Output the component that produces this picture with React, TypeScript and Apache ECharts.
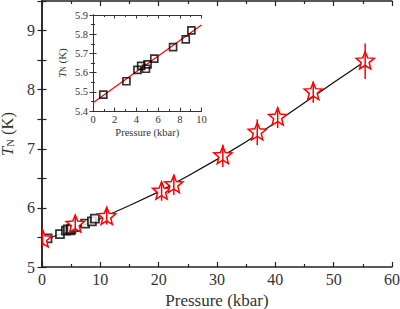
import React, { useEffect, useRef } from 'react';
import * as echarts from 'echarts';

// Black squares (low-pressure data, shown in main plot and inset)
const squareP = [0.95, 3.08, 4.1, 4.44, 4.88, 5.03, 5.65, 7.38, 8.55, 9.07];
const squareT = [5.485, 5.555, 5.614, 5.635, 5.62, 5.643, 5.673, 5.733, 5.773, 5.82];

// Red stars with error bars
const starP = [0.1, 5.7, 11.1, 20.5, 22.6, 31.0, 36.9, 40.4, 46.5, 55.4];
const starT = [5.47, 5.72, 5.85, 6.28, 6.39, 6.88, 7.28, 7.53, 7.96, 8.48];
const starErr = [0.12, 0.13, 0.13, 0.16, 0.17, 0.19, 0.22, 0.18, 0.18, 0.3];

// Black guide line through the main data
const fitP = [0, 5, 10, 15, 20, 25, 30, 35, 40, 45, 50, 55.4];
const fitT = [5.44, 5.63, 5.82, 6.04, 6.27, 6.54, 6.82, 7.12, 7.44, 7.78, 8.12, 8.48];

// Red linear fit in the inset
const insetLineP = [0, 10];
const insetLineT = [5.443, 5.848];

const FONT = '"Liberation Serif", "Times New Roman", serif';
const AX = '#222';

export default function App() {
  const ref = useRef<HTMLDivElement>(null);

  useEffect(() => {
    if (!ref.current) return;
    const chart = echarts.init(ref.current, undefined, { renderer: 'svg' });

    const squares = squareP.map((p, i) => [p, squareT[i]]);
    const stars = starP.map((p, i) => [p, starT[i], starErr[i]]);
    const fit = fitP.map((p, i) => [p, fitT[i]]);
    const insetLine = insetLineP.map((p, i) => [p, insetLineT[i]]);

    const mainAxisLine = { lineStyle: { color: AX, width: 1.5 } };
    const insetAxisLine = { lineStyle: { color: '#333', width: 1 } };

    const yName = (big: number, small: number) => ({
      text: '{i|T}{s|N}{n| (K)}',
      rich: {
        i: { fontFamily: FONT, fontStyle: 'italic', fontSize: big, lineHeight: big, color: '#333' },
        s: { fontFamily: FONT, fontSize: small, lineHeight: small, verticalAlign: 'bottom', color: '#333' },
        n: { fontFamily: FONT, fontSize: big, lineHeight: big, color: '#333' },
      },
    });

    const mainName = yName(16.5, 10.5);
    const insetName = yName(11, 7.5);

    const option: any = {
      animation: false,
      textStyle: { fontFamily: FONT },
      grid: [
        { left: 42, right: 8, top: 1, bottom: 42, outerBoundsMode: 'none', containLabel: false },
        {
          left: 93, right: 198.5, top: 15, bottom: 198, show: true, backgroundColor: '#fff', borderWidth: 0,
          outerBoundsMode: 'none', containLabel: false,
        },
      ],
      xAxis: [
        {
          gridIndex: 0, type: 'value', min: 0, max: 60, interval: 10, position: 'bottom',
          axisLine: mainAxisLine,
          axisTick: { inside: true, length: 5, lineStyle: { color: AX, width: 1.2 } },
          minorTick: { show: true, splitNumber: 2, length: 3, lineStyle: { color: AX, width: 1.2 } },
          splitLine: { show: false },
          axisLabel: { fontFamily: FONT, fontSize: 16, color: '#333', margin: 4 },
          name: 'Pressure (kbar)', nameLocation: 'middle', nameGap: 22,
          nameTextStyle: { fontFamily: FONT, fontSize: 17, color: '#333' },
        },
        {
          gridIndex: 0, type: 'value', min: 0, max: 60, interval: 10, position: 'top',
          axisLine: mainAxisLine,
          axisTick: { inside: true, length: 5, lineStyle: { color: AX, width: 1.2 } },
          minorTick: { show: true, splitNumber: 2, length: 3, lineStyle: { color: AX, width: 1.2 } },
          splitLine: { show: false },
          axisLabel: { show: false },
        },
        {
          gridIndex: 1, type: 'value', min: 0, max: 10, interval: 2, position: 'bottom',
          axisLine: insetAxisLine,
          axisTick: { inside: true, length: 3.5, lineStyle: { color: '#333' } },
          minorTick: { show: true, splitNumber: 2, length: 2, lineStyle: { color: '#333' } },
          splitLine: { show: false },
          axisLabel: { fontFamily: FONT, fontSize: 10.5, color: '#333', margin: 3 },
          name: 'Pressure (kbar)', nameLocation: 'middle', nameGap: 16,
          nameTextStyle: { fontFamily: FONT, fontSize: 10.5, color: '#333' },
        },
        {
          gridIndex: 1, type: 'value', min: 0, max: 10, interval: 2, position: 'top',
          axisLine: insetAxisLine,
          axisTick: { inside: true, length: 3.5, lineStyle: { color: '#333' } },
          minorTick: { show: true, splitNumber: 2, length: 2, lineStyle: { color: '#333' } },
          splitLine: { show: false },
          axisLabel: { show: false },
        },
      ],
      yAxis: [
        {
          gridIndex: 0, type: 'value', min: 5, max: 9.5, interval: 0.5, position: 'left',
          axisLine: mainAxisLine,
          axisTick: { inside: true, length: 4.5, lineStyle: { color: AX, width: 1.2 } },
          splitLine: { show: false },
          axisLabel: {
            fontFamily: FONT, fontSize: 16, color: '#333', margin: 7,
            formatter: (v: number) => (Math.abs(v - Math.round(v)) < 1e-6 ? String(Math.round(v)) : ''),
          },
          name: mainName.text, nameLocation: 'middle', nameGap: 18,
          nameTextStyle: { rich: mainName.rich },
        },
        {
          gridIndex: 0, type: 'value', min: 5, max: 9.5, interval: 0.5, position: 'right',
          axisLine: mainAxisLine,
          axisTick: { inside: true, length: 4.5, lineStyle: { color: AX, width: 1.2 } },
          splitLine: { show: false },
          axisLabel: { show: false },
        },
        {
          gridIndex: 1, type: 'value', min: 5.4, max: 5.9, interval: 0.1, position: 'left',
          axisLine: insetAxisLine,
          axisTick: { inside: true, length: 3.5, lineStyle: { color: '#333' } },
          minorTick: { show: true, splitNumber: 2, length: 2, lineStyle: { color: '#333' } },
          splitLine: { show: false },
          axisLabel: { fontFamily: FONT, fontSize: 10.5, color: '#333', margin: 5, formatter: (v: number) => v.toFixed(1) },
          name: insetName.text, nameLocation: 'middle', nameGap: 26,
          nameTextStyle: { rich: insetName.rich },
        },
        {
          gridIndex: 1, type: 'value', min: 5.4, max: 5.9, interval: 0.1, position: 'right',
          axisLine: insetAxisLine,
          axisTick: { inside: true, length: 3.5, lineStyle: { color: '#333' } },
          minorTick: { show: true, splitNumber: 2, length: 2, lineStyle: { color: '#333' } },
          splitLine: { show: false },
          axisLabel: { show: false },
        },
      ],
      series: [
        {
          type: 'line', xAxisIndex: 0, yAxisIndex: 0, data: fit, showSymbol: false, symbol: 'none',
          lineStyle: { color: '#111', width: 1.3 }, z: 2,
        },
        {
          type: 'scatter', xAxisIndex: 0, yAxisIndex: 0, data: squares, symbol: 'rect', symbolSize: 8,
          itemStyle: { color: '#fff', borderColor: '#000', borderWidth: 1.8 }, z: 3,
        },
        {
          type: 'custom', xAxisIndex: 0, yAxisIndex: 0, data: stars, clip: true, z: 4,
          encode: { x: 0, y: 1 },
          renderItem: (params: any, api: any) => {
            const c = api.coord([api.value(0), api.value(1)]);
            const top = api.coord([api.value(0), api.value(1) + api.value(2)]);
            const bot = api.coord([api.value(0), api.value(1) - api.value(2)]);
            const cs = params.coordSys;
            const R = 9.5, r = 4.2;
            const pts: number[][] = [];
            for (let i = 0; i < 10; i++) {
              const a = -Math.PI / 2 + (i * Math.PI) / 5;
              const rad = i % 2 === 0 ? R : r;
              pts.push([c[0] + rad * Math.cos(a), c[1] + rad * Math.sin(a)]);
            }
            return {
              type: 'group',
              clipPath: { type: 'rect', shape: { x: cs.x, y: cs.y, width: cs.width, height: cs.height } },
              children: [
                { type: 'polygon', shape: { points: pts }, style: { fill: '#fff', stroke: '#f00', lineWidth: 1.5 } },
                { type: 'line', shape: { x1: c[0], y1: top[1], x2: c[0], y2: bot[1] }, style: { stroke: '#f00', lineWidth: 1.5 } },
              ],
            };
          },
        },
        {
          type: 'line', xAxisIndex: 2, yAxisIndex: 2, data: insetLine, showSymbol: false, symbol: 'none',
          lineStyle: { color: '#f00', width: 1.2 }, z: 5,
        },
        {
          type: 'scatter', xAxisIndex: 2, yAxisIndex: 2, data: squares, symbol: 'rect', symbolSize: 7,
          itemStyle: { color: 'rgba(255,255,255,0)', borderColor: '#000', borderWidth: 1.7 }, z: 6,
        },
      ],
    };

    chart.setOption(option);
    return () => chart.dispose();
  }, []);

  return <div ref={ref} style={{ width: 400, height: 309, position: 'absolute', left: 0, top: 0 }} />;
}
